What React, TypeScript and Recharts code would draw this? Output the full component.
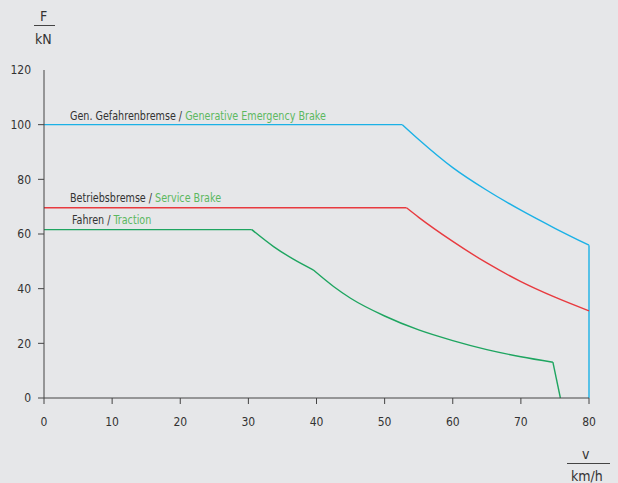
import { LineChart, Line, XAxis, YAxis } from "recharts";

const FONT = '"DejaVu Sans Condensed", "DejaVu Sans", sans-serif';
const BG = "#e6e7e9";
const TEXT = "#333333";
const AXIS = "#444444";
const LABEL_GREEN = "#5cb85f";

const SPEED_TICKS = [0, 10, 20, 30, 40, 50, 60, 70, 80];
const FORCE_TICKS = [0, 20, 40, 60, 80, 100, 120];

// Gen. Gefahrenbremse / Generative Emergency Brake
const EMERGENCY_V = [0, 52.6, 55, 60, 65, 70, 75, 80, 80];
const EMERGENCY_F = [100, 100, 94.6, 84.3, 76.0, 68.7, 62.1, 55.9, 0];

// Betriebsbremse / Service Brake
const SERVICE_V = [0, 53.2, 55, 60, 65, 70, 75, 80];
const SERVICE_F = [69.6, 69.6, 66.1, 57.3, 49.4, 42.6, 36.9, 31.9];

// Fahren / Traction
const TRACTION_V = [0, 30.5, 33.7, 36.6, 39.5, 42.5, 45, 50, 55, 60, 65, 70, 74.7, 75.8];
const TRACTION_F = [61.6, 61.6, 55.4, 50.8, 46.9, 40.8, 36.5, 30.0, 24.9, 21.0, 17.7, 15.1, 13.1, 0];

const seg = (v: number[], f: number[], from: number, to: number) =>
  v.slice(from, to + 1).map((x, i) => ({ v: x, f: f[from + i] }));

const BLUE = "#1bb1e6";
const RED = "#e83a3f";
const GREEN = "#1ea560";

const lines = [
  { key: "em-flat", data: seg(EMERGENCY_V, EMERGENCY_F, 0, 1), color: BLUE, type: "linear" },
  { key: "em-curve", data: seg(EMERGENCY_V, EMERGENCY_F, 1, 7), color: BLUE, type: "monotone" },
  { key: "em-drop", data: seg(EMERGENCY_V, EMERGENCY_F, 7, 8), color: BLUE, type: "linear" },
  { key: "sv-flat", data: seg(SERVICE_V, SERVICE_F, 0, 1), color: RED, type: "linear" },
  { key: "sv-curve", data: seg(SERVICE_V, SERVICE_F, 1, 7), color: RED, type: "monotone" },
  { key: "tr-flat", data: seg(TRACTION_V, TRACTION_F, 0, 1), color: GREEN, type: "linear" },
  { key: "tr-curve1", data: seg(TRACTION_V, TRACTION_F, 1, 4), color: GREEN, type: "monotone" },
  { key: "tr-curve2", data: seg(TRACTION_V, TRACTION_F, 4, 12), color: GREEN, type: "monotone" },
  { key: "tr-drop", data: seg(TRACTION_V, TRACTION_F, 12, 13), color: GREEN, type: "linear" },
];

const TICK_SIZE = 6;
const Y_TICK_MARGIN = 7;

// y ticks: no tick mark at the top value (120)
function ForceTick(props: any) {
  const { x, y, payload } = props;
  const lineX = x + Y_TICK_MARGIN;
  return (
    <g>
      {payload.value !== 120 && (
        <line x1={lineX} x2={lineX + TICK_SIZE} y1={y} y2={y} stroke={AXIS} />
      )}
      <text x={x} y={y} dy="0.35em" textAnchor="end" fill={TEXT} fontSize={12} fontFamily={FONT}>
        {payload.value}
      </text>
    </g>
  );
}

const abs = (left: number, top: number, extra: any = {}) => ({
  position: "absolute" as const,
  left,
  top,
  fontFamily: FONT,
  color: TEXT,
  whiteSpace: "nowrap" as const,
  lineHeight: 1,
  ...extra,
});

const seriesLabel = (left: number, top: number) =>
  abs(left, top, { fontSize: 13, transform: "scaleX(0.82)", transformOrigin: "left center" });

export default function App() {
  return (
    <div style={{ position: "absolute", left: 0, top: 0, width: 618, height: 483, background: BG, overflow: "hidden" }}>
      <LineChart width={618} height={483} margin={{ top: 70, right: 29, bottom: 55, left: 14 }}>
        <XAxis
          type="number"
          dataKey="v"
          domain={[0, 80]}
          ticks={SPEED_TICKS}
          allowDuplicatedCategory={false}
          height={30}
          tickSize={TICK_SIZE}
          tickMargin={13}
          stroke={AXIS}
          tick={{ fill: TEXT, fontSize: 12, fontFamily: FONT }}
        />
        <YAxis
          type="number"
          domain={[0, 120]}
          ticks={FORCE_TICKS}
          width={30}
          tickSize={TICK_SIZE}
          tickMargin={Y_TICK_MARGIN}
          tickLine={false}
          stroke={AXIS}
          tick={<ForceTick />}
        />
        {lines.map((l) => (
          <Line
            key={l.key}
            data={l.data}
            dataKey="f"
            type={l.type as any}
            stroke={l.color}
            strokeWidth={1.4}
            dot={false}
            activeDot={false}
            isAnimationActive={false}
          />
        ))}
      </LineChart>

      {/* axis unit labels */}
      <div style={abs(40, 9, { fontSize: 14 })}>F</div>
      <div style={{ position: "absolute", left: 34, top: 25, width: 21, height: 1, background: AXIS }} />
      <div style={abs(35, 32, { fontSize: 14 })}>kN</div>

      <div style={abs(582, 447, { fontSize: 14 })}>v</div>
      <div style={{ position: "absolute", left: 567, top: 463, width: 43, height: 1, background: AXIS }} />
      <div style={abs(571, 469, { fontSize: 14 })}>km/h</div>

      {/* series labels */}
      <div style={seriesLabel(70, 109)}>
        Gen. Gefahrenbremse / <span style={{ color: LABEL_GREEN }}>Generative Emergency Brake</span>
      </div>
      <div style={seriesLabel(70, 191)}>
        Betriebsbremse / <span style={{ color: LABEL_GREEN }}>Service Brake</span>
      </div>
      <div style={seriesLabel(72, 213)}>
        Fahren / <span style={{ color: LABEL_GREEN }}>Traction</span>
      </div>
    </div>
  );
}
